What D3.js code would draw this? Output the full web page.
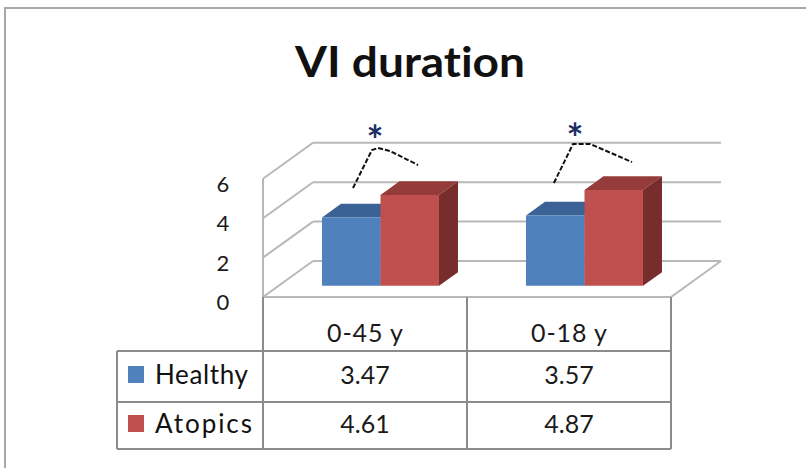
<!DOCTYPE html>
<html>
<head>
<meta charset="utf-8">
<script src="https://cdn.jsdelivr.net/npm/d3@7"></script>
<style>
  html, body { margin: 0; padding: 0; background: #fff; }
  svg { display: block; font-family: Lato, "Open Sans", sans-serif; font-variant-ligatures: none; }
</style>
</head>
<body>
<svg id="chart" width="806" height="468"></svg>
<script>
// ---- data ----
const title = "VI duration";
const categories = ["0-45 y", "0-18 y"];
const seriesNames = ["Healthy", "Atopics"];
const healthy = [3.47, 3.57];
const atopics = [4.61, 4.87];
const yTicks = [0, 2, 4, 6];
const seriesColors = ["#4F81BD", "#C0504D"];
const topColors = ["#3B6294", "#953C3A"];
const sideColors = ["#2F5078", "#772D2B"];
// significance brackets: [position within category band (0..1), value]
const bracketPaths = [
  [[0.441, 5.53], [0.534, 7.46], [0.564, 7.56], [0.623, 7.41], [0.760, 6.70]],
  [[0.426, 5.79], [0.520, 7.77], [0.603, 7.77], [0.809, 6.85]]
];
const starMarks = [[0.549, 8.48], [0.529, 8.58]];

const seriesValues = [healthy, atopics];

const svg = d3.select("#chart");

// outer chart frame
svg.append("rect")
  .attr("x", 5).attr("y", 8).attr("width", 820).attr("height", 480)
  .attr("fill", "none").attr("stroke", "#a8a8a8").attr("stroke-width", 2);

// title
svg.append("text")
  .attr("x", 410).attr("y", 77)
  .attr("text-anchor", "middle")
  .attr("font-size", 42).attr("font-weight", 700)
  .attr("textLength", 230).attr("lengthAdjust", "spacingAndGlyphs")
  .attr("fill", "#111")
  .text(title);

// ---- scales & oblique projection ----
const x = d3.scaleBand().domain(categories).range([263, 671]);
const inner = d3.scaleBand().domain(seriesNames)
  .range([0, x.bandwidth()]).paddingInner(0).paddingOuter(0.744);
const y = d3.scaleLinear().domain([0, 6]).range([297, 297 - 6 * 19.7]);
const DX = 50, DY = -36;           // full floor depth offset
const Z0 = 0.31, Z1 = 0.69;        // bar depth span
const proj = (px, v, z) => [px + z * DX, y(v) + z * DY];
const poly = pts => "M" + pts.map(p => p.join(",")).join("L") + "Z";

const gridColor = "#b8b8b8";
const walls = svg.append("g").attr("fill", "none").attr("stroke", gridColor).attr("stroke-width", 2);
const [x0, x1] = x.range();

yTicks.forEach(t => {
  // back wall gridline
  const a = proj(x0, t, 1), b = proj(x1, t, 1);
  walls.append("line").attr("x1", a[0]).attr("y1", a[1]).attr("x2", b[0]).attr("y2", b[1]);
  // side wall gridline
  const c = proj(x0, t, 0);
  walls.append("line").attr("x1", c[0]).attr("y1", c[1]).attr("x2", a[0]).attr("y2", a[1]);
});
// front edge of side wall
walls.append("line")
  .attr("x1", x0).attr("y1", y(0)).attr("x2", x0).attr("y2", y(d3.max(yTicks)));
// floor front & right edges
{
  const fl = proj(x0, 0, 0), fr = proj(x1, 0, 0), br = proj(x1, 0, 1);
  walls.append("path").attr("d", `M${fl}L${fr}L${br}`);
}

// y axis labels
svg.append("g").selectAll("text").data(yTicks).join("text")
  .attr("x", 223).attr("y", d => y(d) + 13)
  .attr("text-anchor", "middle")
  .attr("font-size", 22).attr("fill", "#1a1a1a")
  .text(d => d);

// ---- 3D bars ----
const bars = svg.append("g");
categories.forEach((cat, ci) => {
  seriesNames.forEach((s, si) => {
    const v = seriesValues[si][ci];
    const bx0 = x(cat) + inner(s), bx1 = bx0 + inner.bandwidth();
    const g = bars.append("g");
    // right side face
    g.append("path").attr("fill", sideColors[si]).attr("d", poly([
      proj(bx1, 0, Z0), proj(bx1, 0, Z1), proj(bx1, v, Z1), proj(bx1, v, Z0)]));
    // top face
    g.append("path").attr("fill", topColors[si]).attr("d", poly([
      proj(bx0, v, Z0), proj(bx1, v, Z0), proj(bx1, v, Z1), proj(bx0, v, Z1)]));
    // front face
    g.append("path").attr("fill", seriesColors[si]).attr("d", poly([
      proj(bx0, 0, Z0), proj(bx1, 0, Z0), proj(bx1, v, Z0), proj(bx0, v, Z0)]));
  });
});

// ---- significance brackets and stars ----
const line = d3.line();
bracketPaths.forEach((pts, ci) => {
  const band = x(categories[ci]);
  svg.append("path")
    .attr("d", line(pts.map(([f, v]) => [band + f * x.bandwidth(), y(v)])))
    .attr("fill", "none").attr("stroke", "#111").attr("stroke-width", 2)
    .attr("stroke-dasharray", "5,2");
});
starMarks.forEach(([f, v], ci) => {
  svg.append("text")
    .attr("x", x(categories[ci]) + f * x.bandwidth())
    .attr("y", y(v) + 25)
    .attr("text-anchor", "middle")
    .attr("font-size", 40).attr("font-weight", 700).attr("fill", "#1f2f66")
    .text("*");
});

// ---- data table ----
const tTop = y(0), tHead = 351, rowBottoms = [402, 449];
const labelLeft = 117;
const tg = svg.append("g").attr("stroke", "#8c8c8c").attr("stroke-width", 2).attr("fill", "none");
// vertical lines in header row and body
[x0, x(categories[1]), x1].forEach(px => {
  tg.append("line").attr("x1", px).attr("y1", tTop).attr("x2", px).attr("y2", rowBottoms[1]);
});
tg.append("line").attr("x1", labelLeft).attr("y1", tHead).attr("x2", labelLeft).attr("y2", rowBottoms[1]);
[tHead, ...rowBottoms].forEach(py => {
  tg.append("line").attr("x1", labelLeft).attr("y1", py).attr("x2", x1).attr("y2", py);
});

// header: category names
svg.append("g").selectAll("text").data(categories).join("text")
  .attr("x", d => x(d) + x.bandwidth() / 2).attr("y", 342)
  .attr("text-anchor", "middle").attr("font-size", 25).attr("fill", "#1a1a1a")
  .attr("textLength", 76).attr("lengthAdjust", "spacing")
  .text(d => d);

const rowBase = [384, 433];
const labelWidths = [93, 97];
seriesNames.forEach((s, si) => {
  svg.append("rect")
    .attr("x", 128).attr("y", rowBase[si] - 18).attr("width", 16).attr("height", 17)
    .attr("fill", seriesColors[si]);
  svg.append("text")
    .attr("x", 155).attr("y", rowBase[si])
    .attr("font-size", 26).attr("fill", "#111")
    .attr("textLength", labelWidths[si]).attr("lengthAdjust", "spacing")
    .text(s);
  svg.append("g").selectAll("text").data(seriesValues[si]).join("text")
    .attr("x", (d, i) => x(categories[i]) + x.bandwidth() / 2)
    .attr("y", rowBase[si])
    .attr("text-anchor", "middle").attr("font-size", 25).attr("fill", "#1a1a1a")
    .text(d => d.toFixed(2));
});
</script>
</body>
</html>
